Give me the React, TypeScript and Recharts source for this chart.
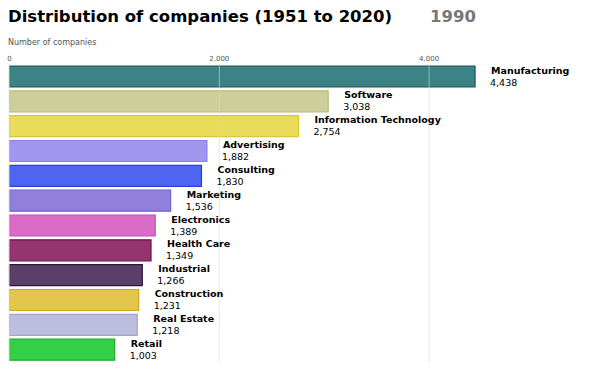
import { BarChart, Bar, XAxis, YAxis, ReferenceLine, Cell, LabelList } from "recharts";

// 1990 snapshot
const industries = [
  "Manufacturing",
  "Software",
  "Information Technology",
  "Advertising",
  "Consulting",
  "Marketing",
  "Electronics",
  "Health Care",
  "Industrial",
  "Construction",
  "Real Estate",
  "Retail",
];

const companies = [4438, 3038, 2754, 1882, 1830, 1536, 1389, 1349, 1266, 1231, 1218, 1003];

const xTicks = [0, 2000, 4000];

const FILLS = [
  "#3b8386",
  "#cccf99",
  "#e9dc5b",
  "#a096f0",
  "#4d65f1",
  "#9080dc",
  "#da6bc7",
  "#96346f",
  "#5a4069",
  "#e4c54c",
  "#bdbde0",
  "#33d047",
];

const EDGES = [
  "#1d5254",
  "#b9bc7b",
  "#d9c833",
  "#8a7ee8",
  "#2b3fe2",
  "#7461d2",
  "#c84cb5",
  "#6a1450",
  "#2c1838",
  "#d4a91f",
  "#a3a3d2",
  "#1aa82b",
];

const font = "'DejaVu Sans', sans-serif";

const data = industries.map((name, i) => ({ name, value: companies[i] }));

function BarLabel(props: any) {
  const { x, y, width, height, index } = props;
  const lx = x + width + 15;
  const cy = y + height / 2;
  return (
    <g>
      <text x={lx + 1} y={cy - 3} fontFamily={font} fontSize={9.5} fontWeight="bold" fill="#000">
        {industries[index]}
      </text>
      <text x={lx} y={cy + 9} fontFamily={font} fontSize={9.5} fill="#000">
        {companies[index].toLocaleString("en-US")}
      </text>
    </g>
  );
}

export default function App() {
  return (
    <div
      style={{
        position: "absolute",
        left: 0,
        top: 0,
        width: 594,
        height: 375,
        background: "#fff",
        fontFamily: font,
      }}
    >
      <div style={{ position: "absolute", left: 8, top: 7, fontSize: 16.5, fontWeight: "bold", color: "#000", whiteSpace: "nowrap" }}>
        Distribution of companies (1951 to 2020)
      </div>
      <div style={{ position: "absolute", left: 430, top: 7, fontSize: 16.5, fontWeight: "bold", color: "#777", whiteSpace: "nowrap" }}>
        1990
      </div>
      <div style={{ position: "absolute", left: 8, top: 38, fontSize: 8, color: "#555", whiteSpace: "nowrap" }}>
        Number of companies
      </div>
      <BarChart
        width={594}
        height={375}
        data={data}
        layout="vertical"
        margin={{ top: 54, right: 60, bottom: 13, left: 9.5 }}
      >
        <XAxis
          type="number"
          orientation="top"
          domain={[0, 5000]}
          ticks={xTicks}
          axisLine={false}
          tickLine={false}
          tickSize={0}
          tickMargin={3}
          height={10}
          tick={{ fontSize: 7, fill: "#555", fontFamily: font }}
          tickFormatter={(v: number) => v.toLocaleString("en-US")}
        />
        <YAxis type="category" dataKey="name" hide width={0} />
        <Bar dataKey="value" barSize={21} isAnimationActive={false}>
          {data.map((d, i) => (
            <Cell key={d.name} fill={FILLS[i]} stroke={EDGES[i]} strokeWidth={1.2} />
          ))}
          <LabelList dataKey="value" content={BarLabel} />
        </Bar>
        {xTicks.map((t) => (
          <ReferenceLine key={t} x={t} stroke="#d8d8d8" strokeOpacity={0.6} strokeWidth={1} />
        ))}
      </BarChart>
    </div>
  );
}
